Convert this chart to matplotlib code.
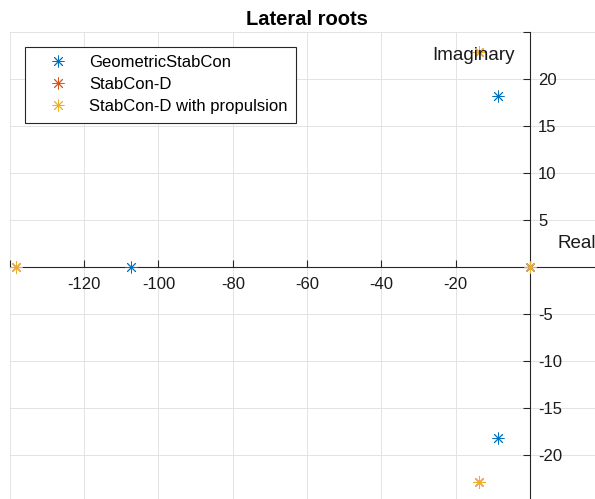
import matplotlib
matplotlib.use("Agg")
import matplotlib.pyplot as plt
from matplotlib.ticker import FixedLocator, FuncFormatter

plt.rcParams['font.family'] = ['Liberation Sans', 'DejaVu Sans']

# Lateral-mode poles (real, imaginary) for each configuration
series_names = ["GeometricStabCon", "StabCon-D", "StabCon-D with propulsion"]
geo_real = [-107.5, -8.6, -8.6, 0.0]
geo_imag = [0.0, 18.2, -18.2, 0.0]
stabd_real = [-138.3, -13.8, -13.8, 0.0]
stabd_imag = [0.0, 22.9, -22.9, 0.0]
prop_real = [-138.3, -13.8, -13.8, 0.0]
prop_imag = [0.0, 22.9, -22.9, 0.0]
colors = ["#0072BD", "#D95319", "#EDB120"]

x_ticks = list(range(-140, 21, 20))
y_ticks = list(range(-25, 26, 5))

W, H = 595, 499
fig = plt.figure(figsize=(W / 100, H / 100), dpi=100)
ax = fig.add_axes([10 / W, (H - 502) / H, 594 / W, 470 / H])
ax.set_xlim(-140, 20)
ax.set_ylim(-25, 25)

axis_col = "#262626"
for side in ("left", "top"):
    ax.spines[side].set_visible(False)
ax.spines["bottom"].set_position(("data", 0))
ax.spines["right"].set_position(("data", 0))
for side in ("bottom", "right"):
    ax.spines[side].set_color(axis_col)
    ax.spines[side].set_linewidth(0.8)

ax.yaxis.tick_right()
ax.xaxis.set_major_locator(FixedLocator(x_ticks))
ax.yaxis.set_major_locator(FixedLocator(y_ticks))
ax.xaxis.set_major_formatter(FuncFormatter(
    lambda v, p: "" if v in (-140, 0, 20) else f"{int(v)}"))
ax.yaxis.set_major_formatter(FuncFormatter(
    lambda v, p: "" if v in (-25, 0, 25) else f"{int(v)}"))
ax.tick_params(axis="x", direction="in", length=5, width=0.8, colors=axis_col,
               labelsize=12, pad=7, labelcolor="#1a1a1a")
ax.tick_params(axis="y", direction="in", length=5, width=0.8, colors=axis_col,
               labelsize=12, pad=6, labelcolor="#1a1a1a", left=False, right=True)

ax.grid(True, color="#e3e3e3", linewidth=0.7)
ax.set_axisbelow(True)

marker = (8, 2, 0)
ms = 8.5
mew = 0.65
ax.plot(geo_real, geo_imag, linestyle="none", marker=marker, ms=ms, mew=mew,
        color=colors[0], label=series_names[0], zorder=3)
ax.plot(stabd_real, stabd_imag, linestyle="none", marker=marker, ms=ms, mew=mew,
        color=colors[1], label=series_names[1], zorder=4)
ax.plot(prop_real, prop_imag, linestyle="none", marker=marker, ms=ms, mew=mew,
        color=colors[2], label=series_names[2], zorder=5)

ax.text(-4, 22.5, "Imaginary", ha="right", va="center", fontsize=13.5,
        color="#1a1a1a", zorder=6)
ax.text(7.5, 2.5, "Real", ha="left", va="center", fontsize=13.5,
        color="#1a1a1a")

ax.set_title("Lateral roots", fontsize=14.5, fontweight="bold", pad=5)

leg = ax.legend(loc="upper left", bbox_to_anchor=(25 / W, 1 - 47 / H),
                bbox_transform=fig.transFigure, borderaxespad=0,
                fontsize=12, frameon=True, fancybox=False, framealpha=1,
                edgecolor=axis_col, handlelength=2.9, handletextpad=0.45,
                labelspacing=0.42, borderpad=0.5)
leg.get_frame().set_linewidth(0.8)

fig.savefig("out.png", dpi=100)
